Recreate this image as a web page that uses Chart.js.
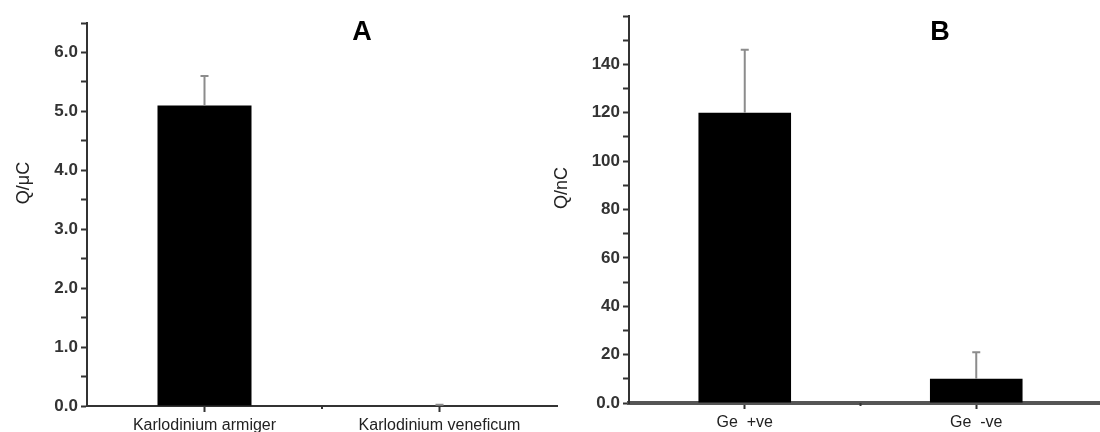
<!DOCTYPE html>
<html>
<head>
<meta charset="utf-8">
<script src="https://cdn.jsdelivr.net/npm/chart.js@4.4.1/dist/chart.umd.min.js"></script>
<style>
  html,body{margin:0;padding:0;background:#fff;}
  #wrap{position:relative;width:1100px;height:432px;overflow:hidden;background:#fff;}
  canvas{position:absolute;top:0;}
</style>
</head>
<body>
<div id="wrap">
  <canvas id="cA" width="570" height="432" style="left:0px"></canvas>
  <canvas id="cB" width="570" height="432" style="left:530px"></canvas>
</div>
<script>
// ---- data ----
const categoriesA = ['Karlodinium armiger', 'Karlodinium veneficum'];
const valuesA = [5.1, 0.01];
const errorsA = [0.5, 0.01];
const yTicksA = [0, 1, 2, 3, 4, 5, 6];
const yMaxA = 6.5;

const categoriesB = ['Ge  +ve', 'Ge  -ve'];
const valuesB = [120, 10];
const errorsB = [26, 11];
const yTicksB = [0, 20, 40, 60, 80, 100, 120, 140];
const yMaxB = 160;

const FONT = '"Liberation Sans", Arial, sans-serif';

function errorBarPlugin(errs) {
  return {
    id: 'errbars',
    afterDatasetsDraw(chart) {
      const ctx = chart.ctx;
      const meta = chart.getDatasetMeta(0);
      const ys = chart.scales.y;
      const data = chart.data.datasets[0].data;
      ctx.save();
      ctx.strokeStyle = '#8c8c8c';
      ctx.lineWidth = 2;
      meta.data.forEach((bar, i) => {
        const yTop = ys.getPixelForValue(data[i] + errs[i]);
        ctx.beginPath();
        ctx.moveTo(bar.x, bar.y);
        ctx.lineTo(bar.x, yTop);
        ctx.moveTo(bar.x - 4, yTop);
        ctx.lineTo(bar.x + 4, yTop);
        ctx.stroke();
      });
      ctx.restore();
    }
  };
}

function decorPlugin(opts) {
  return {
    id: 'decor',
    afterDraw(chart) {
      const ctx = chart.ctx;
      const xs = chart.scales.x;
      const ys = chart.scales.y;
      const axisY = ys.getPixelForValue(0);
      ctx.save();
      // minor x tick between categories
      ctx.strokeStyle = '#333';
      ctx.lineWidth = 2;
      const mx = xs.getPixelForValue(0.5);
      ctx.beginPath();
      ctx.moveTo(mx, axisY);
      ctx.lineTo(mx, axisY + 3);
      ctx.stroke();
      if (opts.extendAxis) {
        ctx.strokeStyle = opts.axisColor;
        ctx.lineWidth = opts.axisWidth;
        ctx.beginPath();
        ctx.moveTo(chart.chartArea.right - 2, axisY);
        ctx.lineTo(chart.width, axisY);
        ctx.stroke();
      }
      // panel letter
      ctx.fillStyle = '#000';
      ctx.font = 'bold 27px ' + FONT;
      ctx.textAlign = 'center';
      ctx.textBaseline = 'middle';
      ctx.fillText(opts.letter, opts.letterX, opts.letterY);
      // y axis title
      ctx.font = '18px ' + FONT;
      ctx.fillStyle = '#222';
      ctx.translate(opts.titleX, opts.titleY);
      ctx.rotate(-Math.PI / 2);
      ctx.fillText(opts.yTitle, 0, 0);
      ctx.restore();
    }
  };
}

function makeChart(id, cats, vals, errs, yTicks, yMax, step, fmt, geom, decor) {
  return new Chart(document.getElementById(id), {
    type: 'bar',
    data: {
      labels: cats,
      datasets: [{
        data: vals,
        backgroundColor: '#000',
        borderWidth: 0,
        categoryPercentage: 1.0,
        barPercentage: 0.4
      }]
    },
    options: {
      responsive: false,
      animation: false,
      devicePixelRatio: 1,
      layout: { padding: { top: geom.top, right: geom.right, left: 0, bottom: 0 } },
      plugins: { legend: { display: false }, tooltip: { enabled: false }, title: { display: false } },
      scales: {
        x: {
          offset: true,
          border: { display: true, color: geom.xAxisColor, width: geom.xAxisWidth },
          grid: { display: true, drawOnChartArea: false, offset: false, tickLength: 6, tickColor: '#333', tickWidth: 2 },
          ticks: { color: '#222', padding: 4, font: { family: FONT, size: 16 }, maxRotation: 0, autoSkip: false },
          afterFit(s) { s.height = geom.xHeight; }
        },
        y: {
          min: 0,
          max: yMax,
          border: { display: true, color: '#333', width: 2 },
          grid: {
            display: true, drawOnChartArea: false, tickLength: 6, tickColor: '#333', tickWidth: 2
          },
          ticks: {
            stepSize: step,
            color: '#333',
            padding: 3,
            font: { family: FONT, size: 17, weight: 'bold' },
            callback: (v) => yTicks.includes(v) ? fmt(v) : ''
          },
          afterFit(s) { s.width = geom.yWidth; }
        }
      }
    },
    plugins: [errorBarPlugin(errs), decorPlugin(decor)]
  });
}

makeChart('cA', categoriesA, valuesA, errorsA, yTicksA, yMaxA, 0.5,
  (v) => v.toFixed(1),
  { top: 23, right: 13, yWidth: 87, xHeight: 26, xAxisColor: '#333', xAxisWidth: 2 },
  { letter: 'A', letterX: 362, letterY: 33, yTitle: 'Q/\u03BCC', titleX: 24, titleY: 183, extendAxis: false });

makeChart('cB', categoriesB, valuesB, errorsB, yTicksB, yMaxB, 10,
  (v) => v === 0 ? '0.0' : String(v),
  { top: 16, right: 8, yWidth: 99, xHeight: 29, xAxisColor: '#555', xAxisWidth: 4 },
  { letter: 'B', letterX: 410, letterY: 33, yTitle: 'Q/nC', titleX: 32, titleY: 188, extendAxis: true, axisColor: '#555', axisWidth: 4 });
</script>
</body>
</html>
